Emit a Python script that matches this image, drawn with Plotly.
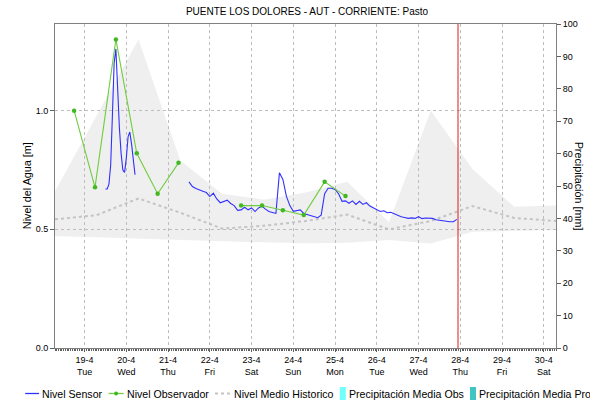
import pandas as pd
import plotly.graph_objects as go

titulo = "PUENTE LOS DOLORES - AUT - CORRIENTE: Pasto"
titulo_y = "Nivel del Agua [m]"
titulo_y2 = "Precipitación [mm]"

# Nivel del sensor (m): primer tramo horario, segundo tramo cada 2 horas
sensor_inicio_1 = "2022-04-19 12:00"
sensor_nivel_1 = [0.67, 0.67, 0.69, 0.77, 0.98, 1.20, 1.26, 1.08, 0.93, 0.82,
                  0.75, 0.74, 0.80, 0.89, 0.91, 0.86, 0.78, 0.73]
sensor_inicio_2 = "2022-04-21 12:00"
sensor_nivel_2 = [0.700, 0.680, 0.672, 0.665, 0.660, 0.655, 0.638, 0.652, 0.628, 0.612,
                  0.616, 0.623, 0.609, 0.600, 0.580, 0.582, 0.593, 0.582, 0.590, 0.575,
                  0.590, 0.598, 0.585, 0.575, 0.571, 0.567, 0.738, 0.710, 0.640, 0.600,
                  0.576, 0.580, 0.582, 0.567, 0.563, 0.560, 0.555, 0.549, 0.560, 0.650,
                  0.673, 0.673, 0.668, 0.650, 0.618, 0.620, 0.610, 0.620, 0.605, 0.618,
                  0.605, 0.612, 0.598, 0.590, 0.585, 0.575, 0.578, 0.570, 0.572, 0.565,
                  0.560, 0.553, 0.550, 0.546, 0.548, 0.546, 0.553, 0.545, 0.548, 0.546,
                  0.546, 0.540, 0.538, 0.533, 0.532, 0.532, 0.532, 0.542]

# Lecturas del observador (06:00 y 18:00)
obs_fechas = ["2022-04-18 18:00", "2022-04-19 06:00", "2022-04-19 18:00", "2022-04-20 06:00",
              "2022-04-20 18:00", "2022-04-21 06:00", "2022-04-21 18:00", "2022-04-22 06:00",
              "2022-04-22 18:00", "2022-04-23 06:00", "2022-04-23 18:00", "2022-04-24 06:00",
              "2022-04-24 18:00", "2022-04-25 06:00"]
obs_nivel = [1.00, 0.677, 1.30, 0.82, 0.65, 0.78, None, None,
             0.60, 0.60, 0.58, 0.56, 0.70, 0.64]

# Serie histórica diaria (07:00): máximo, mínimo y nivel medio
hist_inicio = "2022-04-18 07:00"
hist_max = [0.66, 0.98, 1.30, 0.79, 0.65, 0.625, 0.655, 0.70, 0.53, 1.00, 0.754, 0.595, 0.60]
hist_min = [0.472, 0.466, 0.46, 0.455, 0.45, 0.445, 0.441, 0.443, 0.455, 0.44, 0.49, 0.495, 0.497]
hist_medio = [0.542, 0.56, 0.63, 0.57, 0.503, 0.515, 0.535, 0.562, 0.50, 0.535, 0.598, 0.548, 0.535]

# Precipitación (sin datos en el periodo)
precip_obs = []
precip_pro = []

fecha_corte = "2022-04-27 22:40"
rango_x = ["2022-04-18 07:00", "2022-04-30 07:00"]
dias = pd.date_range("2022-04-19", "2022-04-30", freq="D")
dias_txt = [f"{d.day}-{d.month}<br>{d.strftime('%a')}" for d in dias]

FUENTE = "Liberation Sans, Arial, sans-serif"
AZUL = "#3030ff"
VERDE_LINEA = "#70cc40"
VERDE_PUNTO = "#40b820"
GRIS_MEDIO = "#c4c4c4"

t1 = pd.date_range(sensor_inicio_1, periods=len(sensor_nivel_1), freq="1h")
t2 = pd.date_range(sensor_inicio_2, periods=len(sensor_nivel_2), freq="2h")
sensor_x = list(t1) + [t1[-1] + pd.Timedelta(hours=1)] + list(t2)
sensor_y = sensor_nivel_1 + [None] + sensor_nivel_2
hist_x = pd.date_range(hist_inicio, periods=len(hist_max), freq="D")

fig = go.Figure()
fig.add_trace(go.Scatter(x=hist_x, y=hist_min, mode="lines", line=dict(width=0),
                         hoverinfo="skip", showlegend=False))
fig.add_trace(go.Scatter(x=hist_x, y=hist_max, mode="lines", line=dict(width=0),
                         fill="tonexty", fillcolor="rgba(190,190,190,0.25)",
                         hoverinfo="skip", showlegend=False))
fig.add_trace(go.Scatter(x=hist_x, y=hist_medio, mode="lines", name="Nivel Medio Historico",
                         line=dict(color=GRIS_MEDIO, width=2, dash="dot"), showlegend=False))
fig.add_trace(go.Scatter(x=sensor_x, y=sensor_y, mode="lines", name="Nivel Sensor",
                         line=dict(color=AZUL, width=1.1), connectgaps=False, showlegend=False))
fig.add_trace(go.Scatter(x=obs_fechas, y=obs_nivel, mode="lines+markers", name="Nivel Observador",
                         line=dict(color=VERDE_LINEA, width=1.1),
                         marker=dict(color=VERDE_PUNTO, size=4.5), connectgaps=False,
                         showlegend=False))
fig.add_trace(go.Bar(x=[], y=precip_obs, yaxis="y2", name="Precipitación Media Obs",
                     marker_color="#70ffff", showlegend=False))
fig.add_trace(go.Bar(x=[], y=precip_pro, yaxis="y2", name="Precipitación Media Pro",
                     marker_color="#40c4c4", showlegend=False))

fig.add_shape(type="line", xref="x", yref="paper", x0=fecha_corte, x1=fecha_corte,
              y0=0, y1=1, line=dict(color="#dd1c1c", width=1))

L, R, T, B = 55, 559, 24, 348


def px(x):
    return (x - L) / (R - L)


def py(y):
    return (B - y) / (B - T)


# Leyenda inferior
ly = 393.5
leyenda = [
    ("line", 25, 39, AZUL, "solid", "Nivel Sensor", 41),
    ("line", 109, 124, VERDE_LINEA, "solid", "Nivel Observador", 126),
    ("line", 216, 231, GRIS_MEDIO, "dot", "Nivel Medio Historico", 234),
    ("rect", 341.5, 347.5, "#70ffff", None, "Precipitación Media Obs", 349.5),
    ("rect", 472.5, 478.5, "#40c4c4", None, "Precipitación Media Pro", 481),
]
for tipo, x0, x1, color, dash, texto, xt in leyenda:
    if tipo == "line":
        fig.add_shape(type="line", xref="paper", yref="paper", x0=px(x0), x1=px(x1),
                      y0=py(ly), y1=py(ly),
                      line=dict(color=color, width=2 if dash == "dot" else 1.3, dash=dash))
    else:
        fig.add_shape(type="rect", xref="paper", yref="paper", x0=px(x0), x1=px(x1),
                      y0=py(ly - 6.5), y1=py(ly + 6.5), line=dict(width=0), fillcolor=color)
    fig.add_annotation(text=texto, xref="paper", yref="paper", x=px(xt), y=py(ly),
                       xanchor="left", yanchor="middle", showarrow=False,
                       font=dict(size=10.6, color="#000", family=FUENTE), borderpad=0)
fig.add_shape(type="circle", xref="paper", yref="paper", x0=px(114.5), x1=px(118.5),
              y0=py(ly + 2), y1=py(ly - 2), line=dict(width=0), fillcolor=VERDE_PUNTO)

fig.add_annotation(text=titulo_y, xref="paper", yref="paper", x=px(27), y=0.5,
                   xanchor="center", yanchor="middle", textangle=-90, showarrow=False,
                   font=dict(size=10.8, color="#000", family=FUENTE))
fig.add_annotation(text=titulo_y2, xref="paper", yref="paper", x=px(582.5), y=0.5,
                   xanchor="center", yanchor="middle", textangle=90, showarrow=False,
                   font=dict(size=10.8, color="#000", family=FUENTE), borderpad=0)

fig.update_layout(
    width=590, height=403,
    margin=dict(l=L, r=590 - R, t=T, b=403 - B),
    paper_bgcolor="white", plot_bgcolor="white",
    font=dict(family=FUENTE, size=9, color="#000"),
    title=dict(text=titulo, x=307 / 590, xanchor="center",
               y=1 - 11.5 / 403, yanchor="middle",
               font=dict(size=10, color="#000", family=FUENTE)),
    showlegend=False,
    xaxis=dict(type="date", range=rango_x, tickvals=list(dias), ticktext=dias_txt,
               showgrid=True, gridcolor="#bdbdbd", griddash="dot", gridwidth=1,
               showline=True, linecolor="#808080", linewidth=1, mirror=True,
               ticks="outside", ticklen=3, tickcolor="#606060",
               minor=dict(dtick=3600000, ticks="outside", ticklen=2, tickcolor="#606060",
                          showgrid=False, tick0="2022-04-18 00:00"),
               tickfont=dict(size=9, color="#000"), zeroline=False),
    yaxis=dict(range=[0, 1.365], tickvals=[0, 0.5, 1.0], tickformat=".1f",
               showgrid=True, gridcolor="#bdbdbd", griddash="dot", gridwidth=1,
               showline=True, linecolor="#808080", linewidth=1,
               ticks="outside", ticklen=4, tickcolor="#606060",
               tickfont=dict(size=9, color="#000"), zeroline=False),
    yaxis2=dict(range=[0, 100], overlaying="y", side="right", dtick=10,
                showgrid=False, showline=True, linecolor="#808080", linewidth=1,
                ticks="outside", ticklen=4, tickcolor="#606060",
                tickfont=dict(size=9, color="#000"), zeroline=False),
)

fig.write_html("out.html")
